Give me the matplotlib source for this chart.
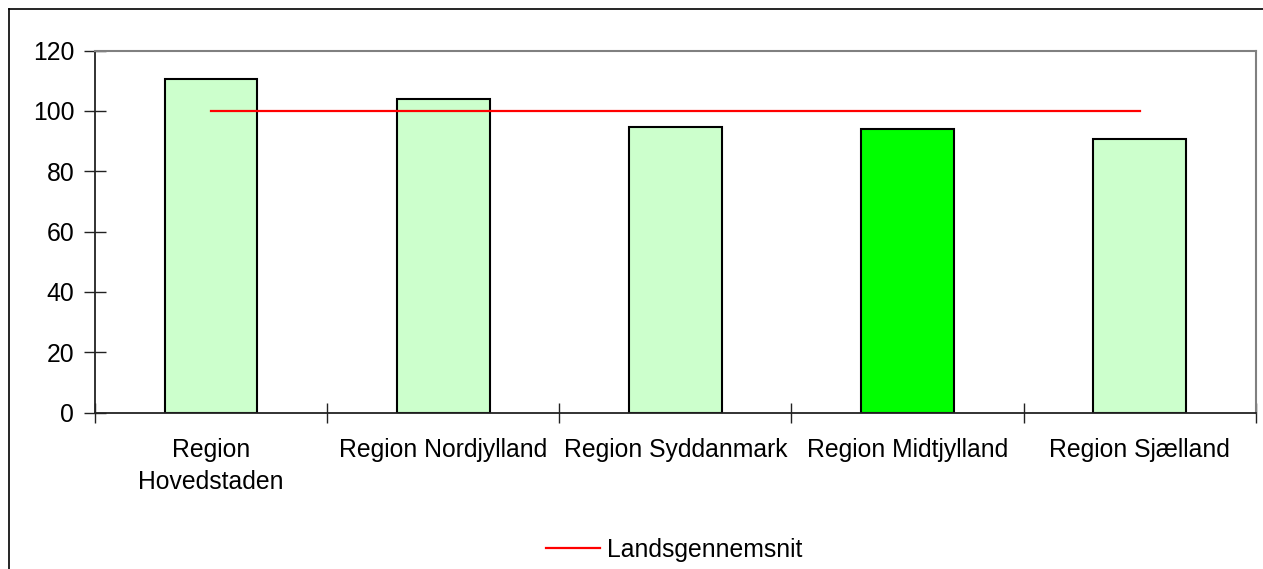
import matplotlib
matplotlib.use("Agg")
import matplotlib.pyplot as plt
from matplotlib.lines import Line2D
from matplotlib.ticker import FixedLocator, NullFormatter

categories = ["Region\nHovedstaden", "Region Nordjylland", "Region Syddanmark",
              "Region Midtjylland", "Region Sjælland"]
values = [110.6, 104.0, 94.6, 94.1, 90.8]
average = [100, 100, 100, 100, 100]
bar_colors = ["#CCFFCC", "#CCFFCC", "#CCFFCC", "#00FF00", "#CCFFCC"]
yticks = [0, 20, 40, 60, 80, 100, 120]
legend_label = "Landsgennemsnit"

plt.rcParams['font.family'] = ['Liberation Sans', 'DejaVu Sans']
FS = 17.8

W, H = 1263, 569
fig = plt.figure(figsize=(W / 100, H / 100), dpi=100)
fig.patch.set_facecolor("white")

# outer chart frame (left and top visible, rest runs beyond the image)
fig.add_artist(Line2D([9 / W, 9 / W], [1 - 9 / H, -0.1], color="black", lw=1.2,
                      transform=fig.transFigure))
fig.add_artist(Line2D([9 / W, 1.1], [1 - 9 / H, 1 - 9 / H], color="black", lw=1.2,
                      transform=fig.transFigure))

left, right = 95 / W, 1255.7 / W
bottom, top = 1 - 412.5 / H, 1 - 50.5 / H
ax = fig.add_axes([left, bottom, right - left, top - bottom])

x = list(range(len(categories)))
ax.bar(x, values, width=0.4, color=bar_colors, edgecolor="black", linewidth=1.5, zorder=2)
ax.plot(x, average, color="#FF0000", lw=1.6, zorder=3, label=legend_label)

ax.set_xlim(-0.5, len(categories) - 0.5)
ax.set_ylim(0, 120)
ax.set_yticks(yticks)
ax.set_yticklabels([str(v) for v in yticks], fontsize=FS)

ax.xaxis.set_major_locator(FixedLocator([i - 0.5 for i in range(len(categories) + 1)]))
ax.xaxis.set_major_formatter(NullFormatter())
ax.set_xticks(x, minor=True)
ax.set_xticklabels(categories, minor=True, fontsize=FS, linespacing=1.45)
ax.tick_params(axis="x", which="minor", length=0, pad=18)
ax.tick_params(axis="x", which="major", direction="inout", length=15, width=1, color="#222222")
ax.tick_params(axis="y", direction="inout", length=16, width=1, color="#222222", pad=7)

for s in ["left", "bottom"]:
    ax.spines[s].set_color("#222222")
    ax.spines[s].set_linewidth(1.3)
for s in ["top", "right"]:
    ax.spines[s].set_color("#808080")
    ax.spines[s].set_linewidth(1.5)

fig.legend(loc="center", bbox_to_anchor=(674 / W, 1 - 550 / H), frameon=False,
           fontsize=FS, handlelength=2.2, handletextpad=0.28)

fig.savefig("out.png", dpi=100)
